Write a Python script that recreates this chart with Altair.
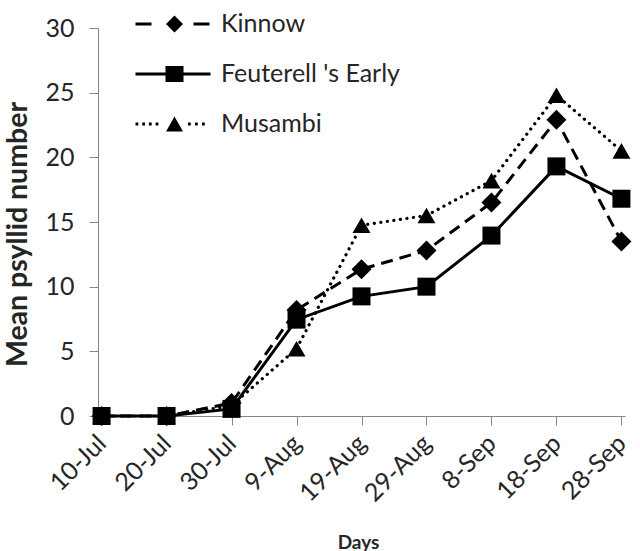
import altair as alt
import pandas as pd

days = ["10-Jul", "20-Jul", "30-Jul", "9-Aug", "19-Aug", "29-Aug", "8-Sep", "18-Sep", "28-Sep"]
series_names = ["Kinnow", "Feuterell 's Early", "Musambi"]
kinnow = [0, 0, 1.0, 8.2, 11.35, 12.8, 16.5, 22.9, 13.5]
feuterell = [0, 0, 0.55, 7.45, 9.25, 10.0, 13.95, 19.3, 16.8]
musambi = [0, 0, 0.8, 5.2, 14.75, 15.5, 18.2, 24.8, 20.5]

rows = []
for name, vals in zip(series_names, [kinnow, feuterell, musambi]):
    for d, v in zip(days, vals):
        rows.append({"day": d, "series": name, "value": v})
df = pd.DataFrame(rows)

FONT = "Lato"
TXT = "#262626"
AX = "#868686"

x_enc = alt.X("day:N", sort=days, scale=alt.Scale(type="point", padding=0.055),
              axis=alt.Axis(title="Days", labelAngle=-45, labelAlign="right", labelBaseline="middle",
                            labelPadding=14, titleX=260, titleY=132, titleBaseline="alphabetic",
                            titleAlign="center", titleFontSize=19))
y_enc = alt.Y("value:Q", scale=alt.Scale(domain=[0, 30], nice=False),
              axis=alt.Axis(title="Mean psyllid number", values=[0, 5, 10, 15, 20, 25, 30],
                            grid=False, labelPadding=15, titleAngle=-90, titleX=-72, titleY=206,
                            titleAlign="center", titleBaseline="alphabetic", titleFontSize=28.5))

base = alt.Chart(df).encode(x=x_enc, y=y_enc)

line_k = base.transform_filter(alt.datum.series == "Kinnow").mark_line(
    color="black", strokeWidth=3, strokeDash=[12, 7])
line_f = base.transform_filter(alt.datum.series == "Feuterell 's Early").mark_line(
    color="black", strokeWidth=3)
line_m = base.transform_filter(alt.datum.series == "Musambi").mark_line(
    color="black", strokeWidth=3.2, strokeDash=[0.1, 6.5], strokeCap="round")

pt_k = base.transform_filter(alt.datum.series == "Kinnow").mark_point(
    shape="diamond", size=400, filled=True, color="black", opacity=1)
pt_f = base.transform_filter(alt.datum.series == "Feuterell 's Early").mark_point(
    shape="square", size=324, filled=True, color="black", opacity=1)
pt_m = base.transform_filter(alt.datum.series == "Musambi").mark_point(
    shape="triangle-up", size=324, filled=True, color="black", opacity=1)


def seg(x0, x1, h=0.15):
    return f"M{x0},{-h}L{x1},{-h}L{x1},{h}L{x0},{h}Z"


kin_path = seg(-3.9, -2.3) + seg(1.9, 3.5) + "M0,-0.85L0.85,0L0,0.85L-0.85,0Z"
feu_path = seg(-3.9, 3.6) + "M-0.9,-0.8L0.9,-0.8L0.9,0.8L-0.9,0.8Z"
mus_path = "".join(seg(a, a + 0.28) for a in [-3.9, -3.23, -2.56, -1.89, 1.35, 2.05, 2.75]) + \
    "M0,-0.75L0.85,0.75L-0.85,0.75Z"
legend_paths = [kin_path, feu_path, mus_path]

legend_layer = alt.Chart(df).transform_filter("false").mark_point(
    filled=True, color="black", size=400, opacity=1
).encode(
    x=alt.X("day:N", sort=days),
    y=alt.Y("value:Q"),
    shape=alt.Shape("series:N", sort=series_names,
                    scale=alt.Scale(domain=series_names, range=legend_paths),
                    legend=alt.Legend(title=None, orient="none", legendX=64, legendY=-16.5,
                                      symbolSize=400, symbolFillColor="black", symbolStrokeWidth=0,
                                      labelFontSize=25, labelFont=FONT,
                                      labelColor=TXT, labelOffset=34, rowPadding=24, padding=0,
                                      labelLimit=400)),
)

chart = alt.layer(line_m, line_k, line_f, pt_m, pt_k, pt_f, legend_layer).properties(
    width=527, height=388,
    autosize=alt.AutoSizeParams(type="none"),
    padding={"left": 98, "top": 28, "right": 15, "bottom": 135},
).configure_view(stroke=None).configure_axis(
    labelFont=FONT, titleFont=FONT, labelFontSize=25, labelColor=TXT, titleColor=TXT,
    titleFontWeight="bold", domainColor=AX, tickColor=AX, tickSize=9, domainWidth=1, tickWidth=1,
    labelFontWeight="normal"
)

chart.save("out.html", embed_options={"renderer": "svg", "actions": False})
